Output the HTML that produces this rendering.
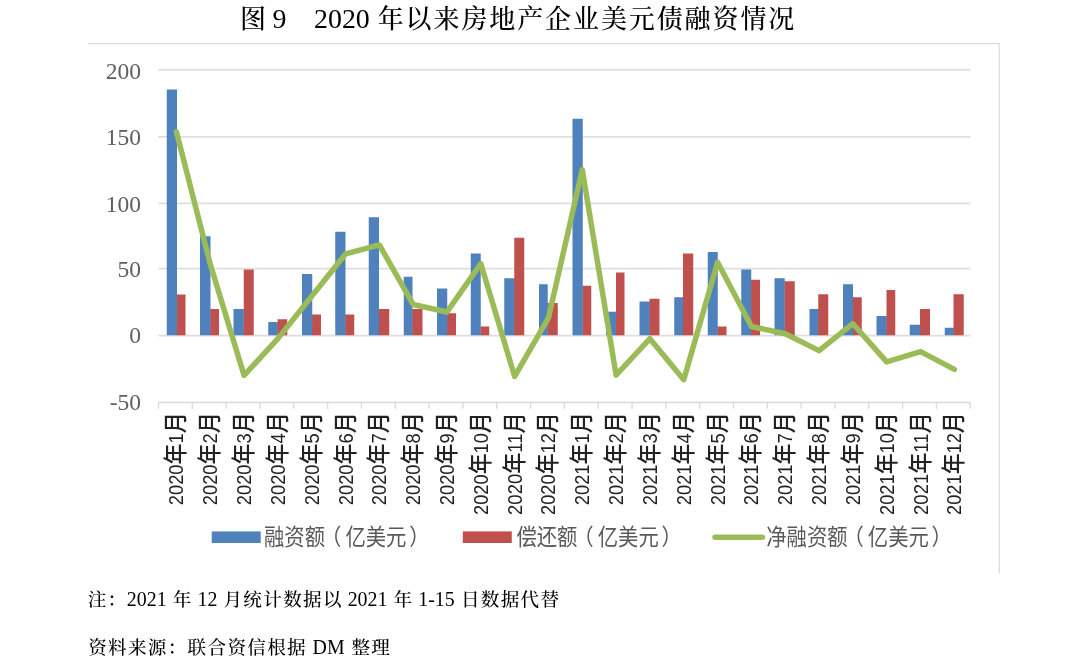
<!DOCTYPE html>
<html lang="zh-CN">
<head>
<meta charset="utf-8">
<title>图 9 2020 年以来房地产企业美元债融资情况</title>
<style>
html,body{margin:0;padding:0;background:#fff;}
body{width:1080px;height:665px;position:relative;overflow:hidden;}
svg{position:absolute;left:0;top:0;display:block;}
.kai{font-family:"Liberation Serif","Noto Serif CJK SC",serif;fill:#000;font-weight:500;}
.ynum{font-family:"Liberation Serif",serif;fill:#5e5e5e;font-size:23.5px;}
.cjk{font-family:"Liberation Sans","Noto Sans CJK SC",sans-serif;font-weight:300;}
</style>
</head>
<body>
<svg width="1080" height="665" viewBox="0 0 1080 665">
<rect x="0" y="0" width="1080" height="665" fill="#ffffff"/>

<g class="kai" font-size="27.9px">
<text x="239" y="27.7" xml:space="preserve"><tspan font-size="26px" letter-spacing="1.9" dx="0.95">图</tspan></text><text x="272.5" y="27.7">9</text>
<text x="314" y="27.7" xml:space="preserve"><tspan>2020 </tspan><tspan font-size="26px" letter-spacing="1.9" dx="0.95">年以来房地产企业美元债融资情况</tspan></text>
</g>
<path d="M88 43.7H999.2V573.5" fill="none" stroke="#D9D9D9" stroke-width="1.2"/>
<line x1="158.5" x2="970.25" y1="69.9" y2="69.9" stroke="#DEDEDE" stroke-width="1.7"/>
<line x1="158.5" x2="970.25" y1="136.8" y2="136.8" stroke="#DEDEDE" stroke-width="1.7"/>
<line x1="158.5" x2="970.25" y1="203.3" y2="203.3" stroke="#DEDEDE" stroke-width="1.7"/>
<line x1="158.5" x2="970.25" y1="268.7" y2="268.7" stroke="#DEDEDE" stroke-width="1.7"/>
<line x1="158.5" x2="970.25" y1="335.7" y2="335.7" stroke="#DEDEDE" stroke-width="1.7"/>
<g fill="#4F81BD">
<rect x="166.75" y="89.5" width="10.25" height="245.75"/>
<rect x="176.8" y="294.5" width="0.9" height="40.75"/>
<rect x="200" y="236.25" width="10.5" height="99.0"/>
<rect x="210.3" y="309" width="0.9" height="26.25"/>
<rect x="233.5" y="309" width="10.25" height="26.25"/>
<rect x="243.55" y="309" width="0.9" height="26.25"/>
<rect x="268.25" y="322" width="9.25" height="13.25"/>
<rect x="277.3" y="322" width="0.9" height="13.25"/>
<rect x="302" y="274" width="10.25" height="61.25"/>
<rect x="312.05" y="314.5" width="0.9" height="20.75"/>
<rect x="335.25" y="231.75" width="10.25" height="103.5"/>
<rect x="345.3" y="314.5" width="0.9" height="20.75"/>
<rect x="368.75" y="217.25" width="10.25" height="118.0"/>
<rect x="378.8" y="309" width="0.9" height="26.25"/>
<rect x="403.75" y="276.75" width="8.75" height="58.5"/>
<rect x="412.3" y="309" width="0.9" height="26.25"/>
<rect x="437" y="288.5" width="10.25" height="46.75"/>
<rect x="447.05" y="313.25" width="0.9" height="22.0"/>
<rect x="470.75" y="253.5" width="10.0" height="81.75"/>
<rect x="480.55" y="326.5" width="0.9" height="8.75"/>
<rect x="504.25" y="278.25" width="10.0" height="57.0"/>
<rect x="514.05" y="278.25" width="0.9" height="57.0"/>
<rect x="539" y="284.25" width="8.75" height="51.0"/>
<rect x="547.55" y="303" width="0.9" height="32.25"/>
<rect x="572.5" y="118.75" width="10.25" height="216.5"/>
<rect x="582.55" y="285.75" width="0.9" height="49.5"/>
<rect x="606" y="311.75" width="10" height="23.5"/>
<rect x="615.8" y="311.75" width="0.9" height="23.5"/>
<rect x="639.5" y="301.5" width="10.0" height="33.75"/>
<rect x="649.3" y="301.5" width="0.9" height="33.75"/>
<rect x="674.25" y="297.25" width="8.75" height="38.0"/>
<rect x="682.8" y="297.25" width="0.9" height="38.0"/>
<rect x="707.75" y="252" width="10.0" height="83.25"/>
<rect x="717.55" y="326.5" width="0.9" height="8.75"/>
<rect x="741.25" y="269.5" width="10.0" height="65.75"/>
<rect x="751.05" y="279.75" width="0.9" height="55.5"/>
<rect x="774.5" y="278.25" width="10.25" height="57.0"/>
<rect x="784.55" y="281.25" width="0.9" height="54.0"/>
<rect x="809.5" y="309" width="8.75" height="26.25"/>
<rect x="818.05" y="309" width="0.9" height="26.25"/>
<rect x="843" y="284.25" width="10" height="51.0"/>
<rect x="852.8" y="297.25" width="0.9" height="38.0"/>
<rect x="876.5" y="316" width="10.0" height="19.25"/>
<rect x="886.3" y="316" width="0.9" height="19.25"/>
<rect x="909.75" y="324.75" width="10.25" height="10.5"/>
<rect x="919.8" y="324.75" width="0.9" height="10.5"/>
<rect x="944.75" y="327.75" width="8.75" height="7.5"/>
<rect x="953.3" y="327.75" width="0.9" height="7.5"/>
</g>
<g fill="#C0504D">
<rect x="177" y="294.5" width="8.5" height="40.75"/>
<rect x="210.5" y="309" width="8.5" height="26.25"/>
<rect x="243.75" y="269.5" width="10.0" height="65.75"/>
<rect x="277.5" y="319.25" width="9.75" height="16.0"/>
<rect x="312.25" y="314.5" width="8.75" height="20.75"/>
<rect x="345.5" y="314.5" width="8.75" height="20.75"/>
<rect x="379" y="309" width="10.25" height="26.25"/>
<rect x="412.5" y="309" width="10.0" height="26.25"/>
<rect x="447.25" y="313.25" width="8.75" height="22.0"/>
<rect x="480.75" y="326.5" width="8.5" height="8.75"/>
<rect x="514.25" y="237.75" width="10.0" height="97.5"/>
<rect x="547.75" y="303" width="10.0" height="32.25"/>
<rect x="582.75" y="285.75" width="8.5" height="49.5"/>
<rect x="616" y="272.5" width="8.5" height="62.75"/>
<rect x="649.5" y="298.75" width="10.0" height="36.5"/>
<rect x="683" y="253.5" width="10.25" height="81.75"/>
<rect x="717.75" y="326.5" width="8.75" height="8.75"/>
<rect x="751.25" y="279.75" width="8.75" height="55.5"/>
<rect x="784.75" y="281.25" width="10.0" height="54.0"/>
<rect x="818.25" y="294.25" width="10.0" height="41.0"/>
<rect x="853" y="297.25" width="8.75" height="38.0"/>
<rect x="886.5" y="290" width="8.75" height="45.25"/>
<rect x="920" y="309" width="10" height="26.25"/>
<rect x="953.5" y="294.25" width="10.25" height="41.0"/>
</g>
<line x1="158.5" x2="970.25" y1="402.5" y2="402.5" stroke="#D9D9D9" stroke-width="1.3"/>
<path d="M158.5 402.5V408.8M192.32 402.5V408.8M226.15 402.5V408.8M259.97 402.5V408.8M293.79 402.5V408.8M327.61 402.5V408.8M361.44 402.5V408.8M395.26 402.5V408.8M429.08 402.5V408.8M462.91 402.5V408.8M496.73 402.5V408.8M530.55 402.5V408.8M564.38 402.5V408.8M598.2 402.5V408.8M632.02 402.5V408.8M665.84 402.5V408.8M699.67 402.5V408.8M733.49 402.5V408.8M767.31 402.5V408.8M801.14 402.5V408.8M834.96 402.5V408.8M868.78 402.5V408.8M902.6 402.5V408.8M936.43 402.5V408.8M970.25 402.5V408.8" stroke="#D9D9D9" stroke-width="1.3" fill="none"/>
<polyline points="176.41,131.7 210.23,263.95 244.06,375.4 277.88,338.65 311.7,296.2 345.53,253.95 379.35,244.95 413.17,304.45 446.99,311.95 480.82,263.7 514.64,376.4 548.46,317.95 582.29,169.7 616.11,375.15 649.93,338.65 683.76,379.65 717.58,262.2 751.4,326.45 785.22,333.7 819.05,350.65 852.87,323.7 886.69,361.9 920.52,351.65 954.34,369.4" fill="none" stroke="#9BBB59" stroke-width="5.5" stroke-linejoin="round" stroke-linecap="round"/>
<g class="ynum" text-anchor="end">
<text transform="translate(141 78.7) scale(1 1.01)">200</text>
<text transform="translate(141 145.15) scale(1 1.01)">150</text>
<text transform="translate(141 211.5) scale(1 1.01)">100</text>
<text transform="translate(141 277.0) scale(1 1.01)">50</text>
<text transform="translate(141 342.5) scale(1 1.01)">0</text>
<text transform="translate(141 409.6) scale(1 1.01)">-50</text>
</g>
<g class="cjk" style="font-weight:500" fill="#222222">
<text transform="translate(183.4 505.2) rotate(-90)" textLength="92.9" lengthAdjust="spacingAndGlyphs"><tspan font-size="20.5px">2020</tspan><tspan font-size="23.5px" dy="1">年</tspan><tspan font-size="20.5px" dy="-1">1</tspan><tspan font-size="23.5px" dy="1">月</tspan></text>
<text transform="translate(217.22 505.2) rotate(-90)" textLength="92.9" lengthAdjust="spacingAndGlyphs"><tspan font-size="20.5px">2020</tspan><tspan font-size="23.5px" dy="1">年</tspan><tspan font-size="20.5px" dy="-1">2</tspan><tspan font-size="23.5px" dy="1">月</tspan></text>
<text transform="translate(251.05 505.2) rotate(-90)" textLength="92.9" lengthAdjust="spacingAndGlyphs"><tspan font-size="20.5px">2020</tspan><tspan font-size="23.5px" dy="1">年</tspan><tspan font-size="20.5px" dy="-1">3</tspan><tspan font-size="23.5px" dy="1">月</tspan></text>
<text transform="translate(284.87 505.2) rotate(-90)" textLength="92.9" lengthAdjust="spacingAndGlyphs"><tspan font-size="20.5px">2020</tspan><tspan font-size="23.5px" dy="1">年</tspan><tspan font-size="20.5px" dy="-1">4</tspan><tspan font-size="23.5px" dy="1">月</tspan></text>
<text transform="translate(318.69 505.2) rotate(-90)" textLength="92.9" lengthAdjust="spacingAndGlyphs"><tspan font-size="20.5px">2020</tspan><tspan font-size="23.5px" dy="1">年</tspan><tspan font-size="20.5px" dy="-1">5</tspan><tspan font-size="23.5px" dy="1">月</tspan></text>
<text transform="translate(352.51 505.2) rotate(-90)" textLength="92.9" lengthAdjust="spacingAndGlyphs"><tspan font-size="20.5px">2020</tspan><tspan font-size="23.5px" dy="1">年</tspan><tspan font-size="20.5px" dy="-1">6</tspan><tspan font-size="23.5px" dy="1">月</tspan></text>
<text transform="translate(386.34 505.2) rotate(-90)" textLength="92.9" lengthAdjust="spacingAndGlyphs"><tspan font-size="20.5px">2020</tspan><tspan font-size="23.5px" dy="1">年</tspan><tspan font-size="20.5px" dy="-1">7</tspan><tspan font-size="23.5px" dy="1">月</tspan></text>
<text transform="translate(420.16 505.2) rotate(-90)" textLength="92.9" lengthAdjust="spacingAndGlyphs"><tspan font-size="20.5px">2020</tspan><tspan font-size="23.5px" dy="1">年</tspan><tspan font-size="20.5px" dy="-1">8</tspan><tspan font-size="23.5px" dy="1">月</tspan></text>
<text transform="translate(453.98 505.2) rotate(-90)" textLength="92.9" lengthAdjust="spacingAndGlyphs"><tspan font-size="20.5px">2020</tspan><tspan font-size="23.5px" dy="1">年</tspan><tspan font-size="20.5px" dy="-1">9</tspan><tspan font-size="23.5px" dy="1">月</tspan></text>
<text transform="translate(487.81 514.9) rotate(-90)" textLength="102.6" lengthAdjust="spacingAndGlyphs"><tspan font-size="20.5px">2020</tspan><tspan font-size="23.5px" dy="1">年</tspan><tspan font-size="20.5px" dy="-1">10</tspan><tspan font-size="23.5px" dy="1">月</tspan></text>
<text transform="translate(521.63 514.9) rotate(-90)" textLength="102.6" lengthAdjust="spacingAndGlyphs"><tspan font-size="20.5px">2020</tspan><tspan font-size="23.5px" dy="1">年</tspan><tspan font-size="20.5px" dy="-1">11</tspan><tspan font-size="23.5px" dy="1">月</tspan></text>
<text transform="translate(555.45 514.9) rotate(-90)" textLength="102.6" lengthAdjust="spacingAndGlyphs"><tspan font-size="20.5px">2020</tspan><tspan font-size="23.5px" dy="1">年</tspan><tspan font-size="20.5px" dy="-1">12</tspan><tspan font-size="23.5px" dy="1">月</tspan></text>
<text transform="translate(589.27 505.2) rotate(-90)" textLength="92.9" lengthAdjust="spacingAndGlyphs"><tspan font-size="20.5px">2021</tspan><tspan font-size="23.5px" dy="1">年</tspan><tspan font-size="20.5px" dy="-1">1</tspan><tspan font-size="23.5px" dy="1">月</tspan></text>
<text transform="translate(623.1 505.2) rotate(-90)" textLength="92.9" lengthAdjust="spacingAndGlyphs"><tspan font-size="20.5px">2021</tspan><tspan font-size="23.5px" dy="1">年</tspan><tspan font-size="20.5px" dy="-1">2</tspan><tspan font-size="23.5px" dy="1">月</tspan></text>
<text transform="translate(656.92 505.2) rotate(-90)" textLength="92.9" lengthAdjust="spacingAndGlyphs"><tspan font-size="20.5px">2021</tspan><tspan font-size="23.5px" dy="1">年</tspan><tspan font-size="20.5px" dy="-1">3</tspan><tspan font-size="23.5px" dy="1">月</tspan></text>
<text transform="translate(690.74 505.2) rotate(-90)" textLength="92.9" lengthAdjust="spacingAndGlyphs"><tspan font-size="20.5px">2021</tspan><tspan font-size="23.5px" dy="1">年</tspan><tspan font-size="20.5px" dy="-1">4</tspan><tspan font-size="23.5px" dy="1">月</tspan></text>
<text transform="translate(724.57 505.2) rotate(-90)" textLength="92.9" lengthAdjust="spacingAndGlyphs"><tspan font-size="20.5px">2021</tspan><tspan font-size="23.5px" dy="1">年</tspan><tspan font-size="20.5px" dy="-1">5</tspan><tspan font-size="23.5px" dy="1">月</tspan></text>
<text transform="translate(758.39 505.2) rotate(-90)" textLength="92.9" lengthAdjust="spacingAndGlyphs"><tspan font-size="20.5px">2021</tspan><tspan font-size="23.5px" dy="1">年</tspan><tspan font-size="20.5px" dy="-1">6</tspan><tspan font-size="23.5px" dy="1">月</tspan></text>
<text transform="translate(792.21 505.2) rotate(-90)" textLength="92.9" lengthAdjust="spacingAndGlyphs"><tspan font-size="20.5px">2021</tspan><tspan font-size="23.5px" dy="1">年</tspan><tspan font-size="20.5px" dy="-1">7</tspan><tspan font-size="23.5px" dy="1">月</tspan></text>
<text transform="translate(826.04 505.2) rotate(-90)" textLength="92.9" lengthAdjust="spacingAndGlyphs"><tspan font-size="20.5px">2021</tspan><tspan font-size="23.5px" dy="1">年</tspan><tspan font-size="20.5px" dy="-1">8</tspan><tspan font-size="23.5px" dy="1">月</tspan></text>
<text transform="translate(859.86 505.2) rotate(-90)" textLength="92.9" lengthAdjust="spacingAndGlyphs"><tspan font-size="20.5px">2021</tspan><tspan font-size="23.5px" dy="1">年</tspan><tspan font-size="20.5px" dy="-1">9</tspan><tspan font-size="23.5px" dy="1">月</tspan></text>
<text transform="translate(893.68 514.9) rotate(-90)" textLength="102.6" lengthAdjust="spacingAndGlyphs"><tspan font-size="20.5px">2021</tspan><tspan font-size="23.5px" dy="1">年</tspan><tspan font-size="20.5px" dy="-1">10</tspan><tspan font-size="23.5px" dy="1">月</tspan></text>
<text transform="translate(927.5 514.9) rotate(-90)" textLength="102.6" lengthAdjust="spacingAndGlyphs"><tspan font-size="20.5px">2021</tspan><tspan font-size="23.5px" dy="1">年</tspan><tspan font-size="20.5px" dy="-1">11</tspan><tspan font-size="23.5px" dy="1">月</tspan></text>
<text transform="translate(961.33 514.9) rotate(-90)" textLength="102.6" lengthAdjust="spacingAndGlyphs"><tspan font-size="20.5px">2021</tspan><tspan font-size="23.5px" dy="1">年</tspan><tspan font-size="20.5px" dy="-1">12</tspan><tspan font-size="23.5px" dy="1">月</tspan></text>
</g>
<rect x="211.7" y="531.4" width="49" height="11.6" fill="#4F81BD"/>
<rect x="462.8" y="531.4" width="49" height="11.6" fill="#C0504D"/>
<line x1="715" x2="762.4" y1="537.2" y2="537.2" stroke="#9BBB59" stroke-width="5.5" stroke-linecap="round"/>
<g class="cjk" style="font-weight:400" font-size="22.5px" fill="#595959">
<text x="264" y="545" textLength="165.5" lengthAdjust="spacingAndGlyphs">融资额<tspan dx="-4.5">（</tspan><tspan dx="4.5">亿美元</tspan><tspan dx="3">）</tspan></text>
<text x="516.4" y="545" textLength="165.5" lengthAdjust="spacingAndGlyphs">偿还额<tspan dx="-4.5">（</tspan><tspan dx="4.5">亿美元</tspan><tspan dx="3">）</tspan></text>
<text x="766.3" y="545" textLength="185.5" lengthAdjust="spacingAndGlyphs">净融资额<tspan dx="-4.5">（</tspan><tspan dx="4.5">亿美元</tspan><tspan dx="3">）</tspan></text>
</g>
<g class="kai" font-size="19.9px">
<text x="87" y="606.3" word-spacing="0.5" xml:space="preserve"><tspan font-size="18.6px" letter-spacing="1.3" dx="0.65">注：</tspan><tspan dx="-0.65">2021 </tspan><tspan font-size="18.6px" letter-spacing="1.3" dx="0.65">年</tspan><tspan dx="-0.65"> 12 </tspan><tspan font-size="18.6px" letter-spacing="1.3" dx="0.65">月统计数据以</tspan><tspan dx="-0.65"> 2021 </tspan><tspan font-size="18.6px" letter-spacing="1.3" dx="0.65">年</tspan><tspan dx="-0.65"> 1-15 </tspan><tspan font-size="18.6px" letter-spacing="1.3" dx="0.65">日数据代替</tspan></text>
<text x="87.5" y="654.2" word-spacing="1.2" xml:space="preserve"><tspan font-size="18.6px" letter-spacing="1.3" dx="0.65">资料来源：联合资信根据</tspan><tspan dx="-0.65"> DM </tspan><tspan font-size="18.6px" letter-spacing="1.3" dx="0.65">整理</tspan></text>
</g>
</svg>
</body>
</html>
